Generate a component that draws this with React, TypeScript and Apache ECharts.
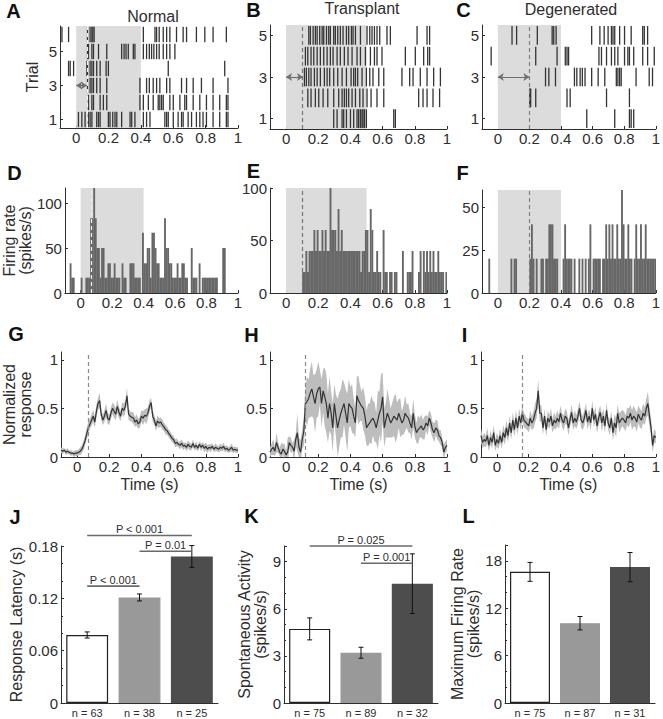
import React, { useEffect, useRef } from 'react';
import * as echarts from 'echarts';

const FONT = '"Liberation Sans", Arial, Helvetica, sans-serif';
const INK = '#2e2e2e';

// ================= DATA =================
const TIME_TICKS = [0, 0.2, 0.4, 0.6, 0.8, 1];
const TRIAL_TICKS = [1, 3, 5];
const BIN_START = -0.1; // first bin (s)
const BIN_WIDTH = 0.01; // bin width (s)

const GROUP_TITLES = ['Normal', 'Transplant', 'Degenerated'];
const STIM_END = [0.4, 0.5, 0.4]; // end of shaded stimulus window (s)
const LATENCY_CELL = [0.066, 0.105, 0.2]; // example-cell response latency (s)
const LATENCY_POP = [0.075, 0.115, 0.157]; // population latency (s)

// spike times (s), index 0 = trial 1
const RASTER_NORMAL = [
  [0.014, 0.035, 0.055, 0.076, 0.086, 0.097, 0.127, 0.138, 0.148, 0.199, 0.209, 0.226, 0.24, 0.251, 0.281, 0.333, 0.343, 0.363, 0.415, 0.435, 0.456, 0.548, 0.559, 0.569, 0.6, 0.63, 0.651, 0.661, 0.692, 0.713, 0.743, 0.764, 0.784, 0.805, 0.846, 0.887, 0.928, 0.938],
  [0.076, 0.097, 0.107, 0.148, 0.168, 0.189, 0.394, 0.415, 0.446, 0.476, 0.507, 0.517, 0.528, 0.538, 0.579, 0.6, 0.641, 0.671, 0.682, 0.723, 0.764, 0.805, 0.846, 0.887, 0.928, 0.938],
  [0.07, 0.086, 0.097, 0.107, 0.127, 0.148, 0.189, 0.394, 0.435, 0.452, 0.476, 0.497, 0.517, 0.559, 0.579, 0.651, 0.682, 0.723, 0.774, 0.846, 0.938],
  [-0.047, -0.037, -0.016, 0.066, 0.07, 0.086, 0.097, 0.107, 0.127, 0.148, 0.185, 0.199, 0.569, 0.918],
  [0.07, 0.076, 0.097, 0.107, 0.138, 0.189, 0.281, 0.296, 0.308, 0.322, 0.353, 0.363, 0.415, 0.435, 0.452, 0.466, 0.48, 0.497, 0.513, 0.538, 0.559, 0.579, 0.61],
  [-0.088, -0.047, 0.07, 0.086, 0.097, 0.103, 0.111, 0.415, 0.487, 0.497, 0.513, 0.538, 0.559, 0.579, 0.62, 0.661, 0.682, 0.743, 0.795, 0.846, 0.928],
];
const RASTER_TRANSPLANT = [
  [0.296, 0.317, 0.348, 0.358, 0.375, 0.4, 0.42, 0.441, 0.451, 0.462, 0.472, 0.478, 0.487, 0.499, 0.669, 0.679],
  [0.135, 0.155, 0.182, 0.203, 0.23, 0.259, 0.296, 0.327, 0.348, 0.362, 0.375, 0.389, 0.41, 0.431, 0.458, 0.478, 0.503, 0.528, 0.565, 0.607, 0.824, 0.851, 0.876, 0.913, 0.954],
  [0.114, 0.126, 0.141, 0.155, 0.176, 0.193, 0.213, 0.238, 0.255, 0.271, 0.296, 0.321, 0.348, 0.375, 0.404, 0.42, 0.431, 0.445, 0.472, 0.499, 0.52, 0.54, 0.576, 0.607, 0.72, 0.768, 0.789, 0.834, 0.876, 0.917, 0.959],
  [0.12, 0.135, 0.155, 0.172, 0.193, 0.213, 0.234, 0.255, 0.275, 0.292, 0.317, 0.337, 0.362, 0.385, 0.41, 0.441, 0.462, 0.493, 0.524, 0.549, 0.565, 0.596, 0.741, 0.803, 0.855, 0.88, 0.892],
  [0.141, 0.151, 0.168, 0.182, 0.193, 0.209, 0.224, 0.234, 0.251, 0.265, 0.275, 0.296, 0.306, 0.321, 0.337, 0.354, 0.375, 0.389, 0.406, 0.416, 0.431, 0.462, 0.503, 0.52, 0.534, 0.549, 0.565, 0.582, 0.627, 0.648, 0.814, 0.876, 0.892],
];
const RASTER_DEGENERATED = [
  [0.563, 0.74, 0.833, 0.844, 0.86],
  [0.202, 0.208, 0.24, 0.438, 0.458, 0.688, 0.833],
  [0.302, 0.323, 0.365, 0.485, 0.5, 0.521, 0.535, 0.552, 0.594, 0.635, 0.677, 0.75, 0.76, 0.771, 0.781, 0.875, 0.958, 0.979],
  [-0.042, 0.24, 0.375, 0.427, 0.438, 0.448, 0.64, 0.656, 0.688, 0.719, 0.74, 0.76, 0.802, 0.823, 0.833, 0.86, 0.917, 0.948, 0.99],
  [0.09, 0.119, 0.25, 0.344, 0.354, 0.369, 0.594, 0.646, 0.673, 0.698, 0.719, 0.729, 0.74, 0.771, 0.802, 0.844, 0.917, 0.927, 0.948],
];

// PSTH firing rate (spikes/s), 10 ms bins from -0.10 s
const PSTH_NORMAL = [
  0, 0, 0, 33, 17, 17, 0, 0, 0, 0,
  17, 0, 0, 17, 17, 17, 83, 83, 117, 83,
  50, 50, 17, 50, 50, 17, 17, 33, 33, 17,
  17, 33, 17, 17, 17, 0, 33, 17, 17, 0,
  0, 33, 33, 33, 17, 17, 17, 17, 0, 67,
  33, 33, 50, 50, 17, 67, 67, 50, 33, 33,
  17, 17, 17, 83, 50, 50, 33, 33, 17, 17,
  17, 33, 17, 17, 33, 33, 17, 17, 0, 0,
  50, 17, 17, 17, 0, 33, 0, 17, 17, 17,
  17, 17, 17, 17, 17, 17, 17, 0, 0, 0,
  50, 50, 0, 0, 0, 0, 0, 0, 0, 0,
];
const PSTH_TRANSPLANT = [
  0, 0, 0, 0, 0, 0, 0, 0, 0, 0,
  0, 0, 0, 0, 0, 0, 0, 0, 0, 0,
  20, 20, 40, 20, 40, 40, 40, 60, 40, 60,
  40, 40, 60, 40, 60, 40, 40, 100, 60, 60,
  60, 40, 80, 40, 60, 40, 40, 40, 40, 40,
  40, 40, 40, 40, 40, 40, 20, 40, 40, 60,
  60, 20, 80, 60, 20, 20, 40, 20, 20, 0,
  60, 20, 20, 0, 20, 20, 0, 20, 20, 0,
  0, 0, 40, 0, 0, 20, 20, 20, 40, 0,
  0, 0, 20, 40, 0, 40, 20, 40, 20, 40,
  20, 40, 20, 20, 40, 20, 20, 20, 0, 20,
];
const PSTH_DEGENERATED = [
  0, 0, 0, 0, 20, 0, 0, 0, 0, 0,
  0, 0, 0, 0, 0, 0, 0, 0, 20, 0,
  20, 20, 0, 0, 0, 0, 0, 0, 0, 0,
  20, 40, 20, 0, 20, 0, 0, 20, 20, 0,
  20, 20, 40, 40, 40, 20, 20, 20, 0, 0,
  0, 20, 40, 20, 20, 20, 20, 0, 20, 0,
  0, 20, 0, 20, 0, 20, 0, 20, 40, 0,
  20, 20, 20, 20, 20, 0, 20, 20, 40, 20,
  40, 20, 40, 20, 20, 40, 20, 20, 60, 40,
  20, 20, 40, 20, 20, 0, 20, 40, 20, 20,
  40, 20, 20, 40, 20, 20, 20, 20, 20, 20,
];

// normalized population response (mean) and SEM, 10 ms steps from -0.10 s to 1.00 s
const RESP_NORMAL = [
  0.07, 0.06, 0.07, 0.05, 0.06, 0.05, 0.04, 0.04, 0.03, 0.04,
  0.04, 0.05, 0.06, 0.08, 0.12, 0.17, 0.24, 0.30, 0.34, 0.38,
  0.42, 0.36, 0.47, 0.55, 0.58, 0.44, 0.38, 0.42, 0.48, 0.40,
  0.38, 0.45, 0.50, 0.47, 0.44, 0.52, 0.46, 0.42, 0.50, 0.48,
  0.52, 0.63, 0.44, 0.42, 0.41, 0.40, 0.36, 0.38, 0.34, 0.36,
  0.42, 0.40, 0.43, 0.42, 0.45, 0.52, 0.56, 0.42, 0.38, 0.32,
  0.37, 0.35, 0.36, 0.33, 0.31, 0.28, 0.27, 0.24, 0.22, 0.19,
  0.18, 0.14, 0.15, 0.13, 0.12, 0.14, 0.11, 0.12, 0.10, 0.13,
  0.11, 0.10, 0.14, 0.10, 0.12, 0.09, 0.13, 0.10, 0.12, 0.09,
  0.11, 0.08, 0.10, 0.09, 0.11, 0.08, 0.10, 0.09, 0.08, 0.10,
  0.09, 0.11, 0.08, 0.09, 0.07, 0.08, 0.10, 0.07, 0.08, 0.07, 0.07,
];
const RESP_NORMAL_SEM = [
  0.03, 0.03, 0.02, 0.03, 0.03, 0.02, 0.03, 0.02, 0.03, 0.03,
  0.03, 0.03, 0.04, 0.04, 0.05, 0.05, 0.06, 0.06, 0.05, 0.06,
  0.06, 0.06, 0.07, 0.06, 0.08, 0.06, 0.05, 0.06, 0.07, 0.06,
  0.05, 0.06, 0.06, 0.07, 0.06, 0.07, 0.06, 0.05, 0.06, 0.07,
  0.06, 0.08, 0.06, 0.05, 0.05, 0.06, 0.05, 0.06, 0.05, 0.06,
  0.06, 0.07, 0.06, 0.08, 0.06, 0.06, 0.05, 0.06, 0.05, 0.05,
  0.06, 0.05, 0.05, 0.05, 0.04, 0.05, 0.04, 0.04, 0.04, 0.04,
  0.04, 0.04, 0.04, 0.03, 0.04, 0.04, 0.04, 0.03, 0.04, 0.04,
  0.04, 0.03, 0.04, 0.03, 0.04, 0.03, 0.03, 0.04, 0.03, 0.04,
  0.04, 0.04, 0.03, 0.04, 0.03, 0.03, 0.04, 0.03, 0.03, 0.04,
  0.03, 0.04, 0.03, 0.03, 0.03, 0.03, 0.04, 0.03, 0.03, 0.03, 0.03,
];
const RESP_TRANSPLANT = [
  0.05, 0.08, 0.10, 0.06, 0.15, 0.10, 0.05, 0.03, 0.08, 0.06,
  0.02, 0.05, 0.15, 0.12, 0.10, 0.06, 0.18, 0.25, 0.10, 0.05,
  0.18, 0.26, 0.55, 0.57, 0.60, 0.66, 0.70, 0.62, 0.55, 0.65,
  0.70, 0.72, 0.55, 0.68, 0.62, 0.55, 0.40, 0.55, 0.45, 0.30,
  0.55, 0.42, 0.30, 0.38, 0.45, 0.50, 0.55, 0.45, 0.35, 0.55,
  0.52, 0.50, 0.42, 0.35, 0.63, 0.58, 0.55, 0.52, 0.50, 0.42,
  0.30, 0.33, 0.35, 0.38, 0.40, 0.36, 0.30, 0.38, 0.45, 0.50,
  0.62, 0.30, 0.38, 0.45, 0.40, 0.35, 0.38, 0.42, 0.40, 0.38,
  0.45, 0.40, 0.35, 0.38, 0.45, 0.42, 0.40, 0.35, 0.30, 0.45,
  0.32, 0.25, 0.28, 0.30, 0.32, 0.28, 0.30, 0.35, 0.32, 0.40,
  0.35, 0.28, 0.25, 0.30, 0.28, 0.22, 0.20, 0.15, 0.05, 0.10, 0.12,
];
const RESP_TRANSPLANT_SEM = [
  0.05, 0.06, 0.08, 0.05, 0.10, 0.06, 0.04, 0.12, 0.05, 0.08,
  0.04, 0.15, 0.06, 0.08, 0.04, 0.12, 0.06, 0.20, 0.10, 0.12,
  0.10, 0.15, 0.18, 0.25, 0.20, 0.25, 0.28, 0.22, 0.30, 0.25,
  0.28, 0.18, 0.25, 0.22, 0.30, 0.30, 0.25, 0.28, 0.22, 0.25,
  0.20, 0.22, 0.30, 0.28, 0.25, 0.30, 0.22, 0.25, 0.30, 0.25,
  0.20, 0.25, 0.18, 0.15, 0.20, 0.25, 0.18, 0.15, 0.22, 0.20,
  0.18, 0.22, 0.20, 0.25, 0.18, 0.20, 0.15, 0.30, 0.22, 0.35,
  0.25, 0.20, 0.18, 0.25, 0.20, 0.15, 0.18, 0.20, 0.25, 0.18,
  0.15, 0.20, 0.12, 0.15, 0.18, 0.12, 0.15, 0.10, 0.12, 0.15,
  0.12, 0.10, 0.15, 0.10, 0.12, 0.10, 0.12, 0.08, 0.10, 0.08,
  0.10, 0.08, 0.10, 0.08, 0.10, 0.06, 0.08, 0.05, 0.08, 0.06, 0.06,
];
const RESP_DEGENERATED = [
  0.22, 0.15, 0.18, 0.16, 0.22, 0.12, 0.20, 0.15, 0.25, 0.12,
  0.18, 0.14, 0.22, 0.15, 0.25, 0.20, 0.30, 0.22, 0.35, 0.25,
  0.38, 0.28, 0.40, 0.30, 0.42, 0.35, 0.45, 0.38, 0.36, 0.34,
  0.32, 0.40, 0.35, 0.38, 0.45, 0.50, 0.68, 0.45, 0.45, 0.30,
  0.42, 0.28, 0.40, 0.36, 0.42, 0.32, 0.38, 0.35, 0.40, 0.36,
  0.45, 0.38, 0.35, 0.42, 0.40, 0.30, 0.38, 0.46, 0.35, 0.40,
  0.36, 0.42, 0.50, 0.38, 0.35, 0.40, 0.48, 0.36, 0.42, 0.35,
  0.50, 0.38, 0.44, 0.32, 0.40, 0.46, 0.35, 0.42, 0.32, 0.48,
  0.35, 0.30, 0.40, 0.25, 0.35, 0.30, 0.45, 0.35, 0.38, 0.40,
  0.38, 0.35, 0.42, 0.40, 0.45, 0.38, 0.42, 0.40, 0.36, 0.44,
  0.40, 0.38, 0.45, 0.42, 0.50, 0.55, 0.42, 0.30, 0.12, 0.22, 0.20,
];
const RESP_DEGENERATED_SEM = [
  0.07, 0.06, 0.07, 0.06, 0.08, 0.06, 0.07, 0.06, 0.08, 0.06,
  0.07, 0.06, 0.07, 0.06, 0.08, 0.07, 0.08, 0.07, 0.08, 0.07,
  0.08, 0.07, 0.08, 0.07, 0.08, 0.07, 0.08, 0.07, 0.07, 0.06,
  0.07, 0.08, 0.07, 0.09, 0.10, 0.10, 0.12, 0.09, 0.08, 0.07,
  0.08, 0.07, 0.08, 0.07, 0.08, 0.07, 0.08, 0.07, 0.08, 0.07,
  0.08, 0.07, 0.08, 0.08, 0.07, 0.08, 0.07, 0.08, 0.07, 0.08,
  0.07, 0.08, 0.07, 0.08, 0.07, 0.08, 0.07, 0.08, 0.07, 0.08,
  0.08, 0.07, 0.08, 0.07, 0.08, 0.07, 0.09, 0.08, 0.07, 0.08,
  0.07, 0.08, 0.07, 0.08, 0.09, 0.10, 0.09, 0.10, 0.09, 0.08,
  0.09, 0.08, 0.09, 0.10, 0.09, 0.10, 0.11, 0.09, 0.10, 0.09,
  0.10, 0.09, 0.10, 0.09, 0.10, 0.12, 0.10, 0.09, 0.08, 0.07, 0.06,
];

// group summaries (mean ± SEM)
const LATENCY_MEAN = [0.078, 0.121, 0.168];
const LATENCY_SEM = [0.0035, 0.004, 0.0125];
const LATENCY_N = ['n = 63', 'n = 38', 'n = 25'];
const SPONT_MEAN = [4.72, 3.2, 7.6];
const SPONT_SEM = [0.7, 0.35, 1.9];
const SPONT_N = ['n = 75', 'n = 89', 'n = 32'];
const MAXFR_MEAN = [16.6, 10.1, 17.2];
const MAXFR_SEM = [1.2, 0.85, 1.85];
const MAXFR_N = ['n = 75', 'n = 87', 'n = 31'];

const LATENCY_SIG = [
  { from: 0, to: 1, y: 0.134, text: 'P < 0.001' },
  { from: 1, to: 2, y: 0.174, text: 'P = 0.01' },
  { from: 0, to: 2, y: 0.192, text: 'P < 0.001' },
];
const SPONT_SIG = [
  { from: 0, to: 2, y: 10.0, text: 'P = 0.025' },
  { from: 1, to: 2, y: 8.9, text: 'P = 0.001' },
];

// ================= STYLE / LAYOUT =================
const SHADE = '#dcdcdc';
const SPIKE = '#343434';
const PSTH_FILL = '#676767';
const BAND = '#bdbdbd';
const BAR_FILL = ['#ffffff', '#999999', '#4d4d4d'];
const BAR_EDGE = ['#222222', '#999999', '#4d4d4d'];

const GRIDS = [
  { left: 60, top: 26, width: 178, height: 102 },
  { left: 270, top: 25, width: 177, height: 104 },
  { left: 482, top: 25, width: 176, height: 104 },
  { left: 60, top: 188, width: 178, height: 105 },
  { left: 270, top: 188, width: 177, height: 105 },
  { left: 482, top: 190, width: 176, height: 103 },
  { left: 60, top: 352, width: 178, height: 105 },
  { left: 270, top: 352, width: 177, height: 105 },
  { left: 481, top: 352, width: 177, height: 105 },
  { left: 61, top: 546, width: 157, height: 157 },
  { left: 284, top: 546, width: 154, height: 157 },
  { left: 505, top: 545, width: 150, height: 158 },
];

const LETTERS = [
  { t: 'A', x: 13.5, y: 10.5 }, { t: 'B', x: 253.5, y: 9.5 }, { t: 'C', x: 463.5, y: 9.5 },
  { t: 'D', x: 14.5, y: 172.5 }, { t: 'E', x: 253.5, y: 170.5 }, { t: 'F', x: 462.5, y: 172.5 },
  { t: 'G', x: 16, y: 333.5 }, { t: 'H', x: 251.5, y: 334.5 }, { t: 'I', x: 464.5, y: 334.5 },
  { t: 'J', x: 15, y: 516.5 }, { t: 'K', x: 251.5, y: 515.5 }, { t: 'L', x: 468.5, y: 515.5 },
];
const TITLE_POS = [{ x: 153, y: 16 }, { x: 362, y: 8.5 }, { x: 571, y: 9.5 }];

const tAt = (i: number) => Math.round((BIN_START + i * BIN_WIDTH) * 1000) / 1000;

const nameStyle = { fontSize: 16, color: INK, fontFamily: FONT, lineHeight: 16 };
const labelStyle = { fontSize: 15, color: INK, fontFamily: FONT };

function timeXAxis(gi: number, withName: boolean) {
  return {
    type: 'value', gridIndex: gi, min: -0.1, max: 1, interval: 0.1,
    axisLine: { show: true, onZero: false, lineStyle: { color: INK, width: 1 } },
    axisTick: { show: true, inside: true, length: 3, customValues: TIME_TICKS, lineStyle: { color: INK } },
    axisLabel: { show: true, customValues: TIME_TICKS, margin: 2, ...labelStyle },
    splitLine: { show: false },
    name: withName ? 'Time (s)' : '', nameLocation: 'middle', nameGap: 19, nameTextStyle: nameStyle,
  };
}

function valueYAxis(gi: number, min: number, max: number, ticks: number[], name = '', nameGap = 20, extra: any = {}) {
  return {
    type: 'value', gridIndex: gi, min, max,
    axisLine: { show: true, onZero: false, lineStyle: { color: INK, width: 1 } },
    axisTick: { show: true, inside: true, length: 3, customValues: ticks, lineStyle: { color: INK } },
    axisLabel: { show: true, customValues: ticks, margin: 3, ...labelStyle },
    splitLine: { show: false },
    name, nameLocation: 'middle', nameRotate: 90, nameGap, nameTextStyle: nameStyle,
    ...extra,
  };
}

function barYAxis(gi: number, max: number, interval: number, ticks: number[], name: string, nameGap: number) {
  return {
    type: 'value', gridIndex: gi, min: 0, max, interval,
    axisLine: { show: true, onZero: false, lineStyle: { color: INK, width: 1 } },
    axisTick: { show: true, inside: true, length: 3, lineStyle: { color: INK } },
    minorTick: { show: true, splitNumber: 3, length: 2, lineStyle: { color: INK } },
    axisLabel: { show: true, customValues: ticks, margin: 3, ...labelStyle },
    splitLine: { show: false },
    name, nameLocation: 'middle', nameRotate: 90, nameGap, nameTextStyle: nameStyle,
  };
}

function catXAxis(gi: number, labels: string[]) {
  return {
    type: 'category', gridIndex: gi, data: labels,
    axisLine: { show: true, onZero: false, lineStyle: { color: INK, width: 1 } },
    axisTick: { show: false },
    axisLabel: { fontSize: 11, color: INK, fontFamily: FONT, margin: 4 },
  };
}

function vLine(x: number, color: string) {
  return { xAxis: x, lineStyle: { type: [4, 3], color, width: 1.2 } };
}

function rasterSeries(gi: number, trials: number[][], stimEnd: number, latency: number, dashColor: string) {
  const data: number[][] = [];
  trials.forEach((spikes, k) => spikes.forEach((t) => data.push([t, k + 1])));
  return {
    type: 'custom', xAxisIndex: gi, yAxisIndex: gi, data, clip: true, silent: true, z: 2,
    renderItem: (_p: any, api: any) => {
      const t = api.value(0);
      const tr = api.value(1);
      const a = api.coord([t, tr - 0.45]);
      const b = api.coord([t, tr + 0.45]);
      return { type: 'line', shape: { x1: a[0], y1: a[1], x2: b[0], y2: b[1] }, style: { stroke: SPIKE, lineWidth: 1.3 } };
    },
    markArea: { silent: true, itemStyle: { color: SHADE }, data: [[{ xAxis: 0 }, { xAxis: stimEnd }]] },
    markLine: {
      silent: true, symbol: 'none', label: { show: false },
      data: [
        vLine(latency, dashColor),
        [
          { coord: [0, 3], symbol: 'arrow', symbolSize: 6, lineStyle: { type: 'solid', color: '#6f6f6f', width: 1.2 } },
          { coord: [latency, 3], symbol: 'arrow', symbolSize: 6 },
        ],
      ],
    },
  };
}

function psthSeries(gi: number, rates: number[], stimEnd: number, latency: number, dashColor: string) {
  return {
    type: 'custom', xAxisIndex: gi, yAxisIndex: gi, clip: true, silent: true, z: 2,
    data: rates.map((r, i) => [tAt(i), r]),
    renderItem: (_p: any, api: any) => {
      const t = api.value(0);
      const r = api.value(1);
      if (!r) return { type: 'group', children: [] };
      const a = api.coord([t, r]);
      const b = api.coord([t + BIN_WIDTH, 0]);
      return { type: 'rect', shape: { x: a[0], y: a[1], width: b[0] - a[0] + 0.3, height: b[1] - a[1] }, style: { fill: PSTH_FILL } };
    },
    markArea: { silent: true, itemStyle: { color: SHADE }, data: [[{ xAxis: 0 }, { xAxis: stimEnd }]] },
    markLine: { silent: true, symbol: 'none', label: { show: false }, data: [vLine(latency, dashColor)] },
  };
}

function responseSeries(gi: number, mean: number[], sem: number[], latency: number) {
  return [
    {
      type: 'custom', xAxisIndex: gi, yAxisIndex: gi, clip: true, silent: true, z: 1, data: [[0, 0]],
      renderItem: (_p: any, api: any) => {
        const up = mean.map((m, i) => api.coord([tAt(i), m + sem[i]]));
        const lo = mean.map((m, i) => api.coord([tAt(i), m - sem[i]])).reverse();
        return { type: 'polygon', shape: { points: up.concat(lo) }, style: { fill: BAND } };
      },
      markLine: { silent: true, symbol: 'none', label: { show: false }, data: [vLine(latency, '#8a8a8a')] },
    },
    {
      type: 'line', xAxisIndex: gi, yAxisIndex: gi, silent: true, z: 3, clip: true,
      data: mean.map((m, i) => [tAt(i), m]),
      showSymbol: false, symbol: 'none',
      lineStyle: { color: '#333333', width: 1.2 },
    },
  ];
}

function barSeries(gi: number, means: number[], sems: number[], sig: any[] | null) {
  const out: any[] = [
    {
      type: 'bar', xAxisIndex: gi, yAxisIndex: gi, barWidth: '80%', silent: true,
      data: means.map((v, i) => ({ value: v, itemStyle: { color: BAR_FILL[i], borderColor: BAR_EDGE[i], borderWidth: 1.2 } })),
    },
    {
      type: 'custom', xAxisIndex: gi, yAxisIndex: gi, silent: true, clip: false, z: 4,
      data: means.map((m, i) => [i, m - sems[i], m + sems[i]]),
      renderItem: (_p: any, api: any) => {
        const x = api.value(0);
        const a = api.coord([x, api.value(1)]);
        const b = api.coord([x, api.value(2)]);
        const cap = 2.5;
        const st = { stroke: '#111111', lineWidth: 1 };
        return {
          type: 'group', children: [
            { type: 'line', shape: { x1: a[0], y1: a[1], x2: b[0], y2: b[1] }, style: st },
            { type: 'line', shape: { x1: a[0] - cap, y1: a[1], x2: a[0] + cap, y2: a[1] }, style: st },
            { type: 'line', shape: { x1: b[0] - cap, y1: b[1], x2: b[0] + cap, y2: b[1] }, style: st },
          ],
        };
      },
    },
  ];
  if (sig) {
    out.push({
      type: 'custom', xAxisIndex: gi, yAxisIndex: gi, silent: true, clip: false, z: 5,
      data: sig.map((s) => [s.from, s.y, s.to]),
      renderItem: (p: any, api: any) => {
        const s = sig[p.dataIndex];
        const a = api.coord([s.from, s.y]);
        const b = api.coord([s.to, s.y]);
        return {
          type: 'group', children: [
            { type: 'line', shape: { x1: a[0], y1: a[1], x2: b[0], y2: b[1] }, style: { stroke: '#6a6a6a', lineWidth: 1.6 } },
            {
              type: 'text', x: (a[0] + b[0]) / 2, y: a[1] - 1,
              style: { text: s.text, fill: INK, font: `11px ${FONT}`, align: 'center', verticalAlign: 'bottom', textAlign: 'center', textVerticalAlign: 'bottom' },
            },
          ],
        };
      },
    });
  }
  return out;
}

function buildOption() {
  const xAxis = [
    timeXAxis(0, false), timeXAxis(1, false), timeXAxis(2, false),
    timeXAxis(3, false), timeXAxis(4, false), timeXAxis(5, false),
    timeXAxis(6, true), timeXAxis(7, true), timeXAxis(8, true),
    catXAxis(9, LATENCY_N), catXAxis(10, SPONT_N), catXAxis(11, MAXFR_N),
  ];
  const yAxis = [
    valueYAxis(0, 0.5, 6.5, TRIAL_TICKS, 'Trial', 20),
    valueYAxis(1, 0.5, 5.5, TRIAL_TICKS),
    valueYAxis(2, 0.5, 5.5, TRIAL_TICKS),
    valueYAxis(3, 0, 116.7, [0, 50, 100], 'Firing rate\n(spikes/s)', 28),
    valueYAxis(4, 0, 100, [0, 50, 100]),
    valueYAxis(5, 0, 60, [0, 25, 50]),
    valueYAxis(6, 0, 1.08, [0, 0.5, 1], 'Normalized\nresponse', 28),
    valueYAxis(7, 0, 1.08, [0, 0.5, 1]),
    valueYAxis(8, 0, 1.08, [0, 0.5, 1]),
    barYAxis(9, 0.18, 0.06, [0, 0.06, 0.12, 0.18], 'Response Latency (s)', 33),
    barYAxis(10, 10, 3, [0, 3, 6, 9], 'Spontaneous Activity\n(spikes/s)', 16),
    barYAxis(11, 20, 6, [0, 6, 12, 18], 'Maximum Firing Rate\n(spikes/s)', 18),
  ];
  const series: any[] = [
    rasterSeries(0, RASTER_NORMAL, STIM_END[0], LATENCY_CELL[0], '#f2f2f2'),
    rasterSeries(1, RASTER_TRANSPLANT, STIM_END[1], LATENCY_CELL[1], '#777777'),
    rasterSeries(2, RASTER_DEGENERATED, STIM_END[2], LATENCY_CELL[2], '#808080'),
    psthSeries(3, PSTH_NORMAL, STIM_END[0], LATENCY_CELL[0], '#eeeeee'),
    psthSeries(4, PSTH_TRANSPLANT, STIM_END[1], LATENCY_CELL[1], '#777777'),
    psthSeries(5, PSTH_DEGENERATED, STIM_END[2], LATENCY_CELL[2], '#808080'),
    ...responseSeries(6, RESP_NORMAL, RESP_NORMAL_SEM, LATENCY_POP[0]),
    ...responseSeries(7, RESP_TRANSPLANT, RESP_TRANSPLANT_SEM, LATENCY_POP[1]),
    ...responseSeries(8, RESP_DEGENERATED, RESP_DEGENERATED_SEM, LATENCY_POP[2]),
    ...barSeries(9, LATENCY_MEAN, LATENCY_SEM, LATENCY_SIG),
    ...barSeries(10, SPONT_MEAN, SPONT_SEM, SPONT_SIG),
    ...barSeries(11, MAXFR_MEAN, MAXFR_SEM, null),
  ];
  const graphic: any[] = [
    ...LETTERS.map((l) => ({
      type: 'text', x: l.x, y: l.y, silent: true,
      style: { text: l.t, fill: '#111111', font: `bold 20px ${FONT}`, align: 'center', verticalAlign: 'middle', textAlign: 'center', textVerticalAlign: 'middle' },
    })),
    ...GROUP_TITLES.map((t, i) => ({
      type: 'text', x: TITLE_POS[i].x, y: TITLE_POS[i].y, silent: true,
      style: { text: t, fill: INK, font: `16px ${FONT}`, align: 'center', verticalAlign: 'middle', textAlign: 'center', textVerticalAlign: 'middle' },
    })),
  ];
  return {
    animation: false,
    backgroundColor: '#ffffff',
    textStyle: { fontFamily: FONT },
    grid: GRIDS.map((g) => ({ ...g, containLabel: false })),
    xAxis, yAxis, series, graphic,
  };
}

export default function App() {
  const ref = useRef<HTMLDivElement>(null);
  useEffect(() => {
    const chart = echarts.init(ref.current as HTMLDivElement, null, { renderer: 'svg' });
    chart.setOption(buildOption() as any);
    return () => chart.dispose();
  }, []);
  return <div ref={ref} style={{ position: 'fixed', left: 0, top: 0, width: 663, height: 719, background: '#fff' }} />;
}
